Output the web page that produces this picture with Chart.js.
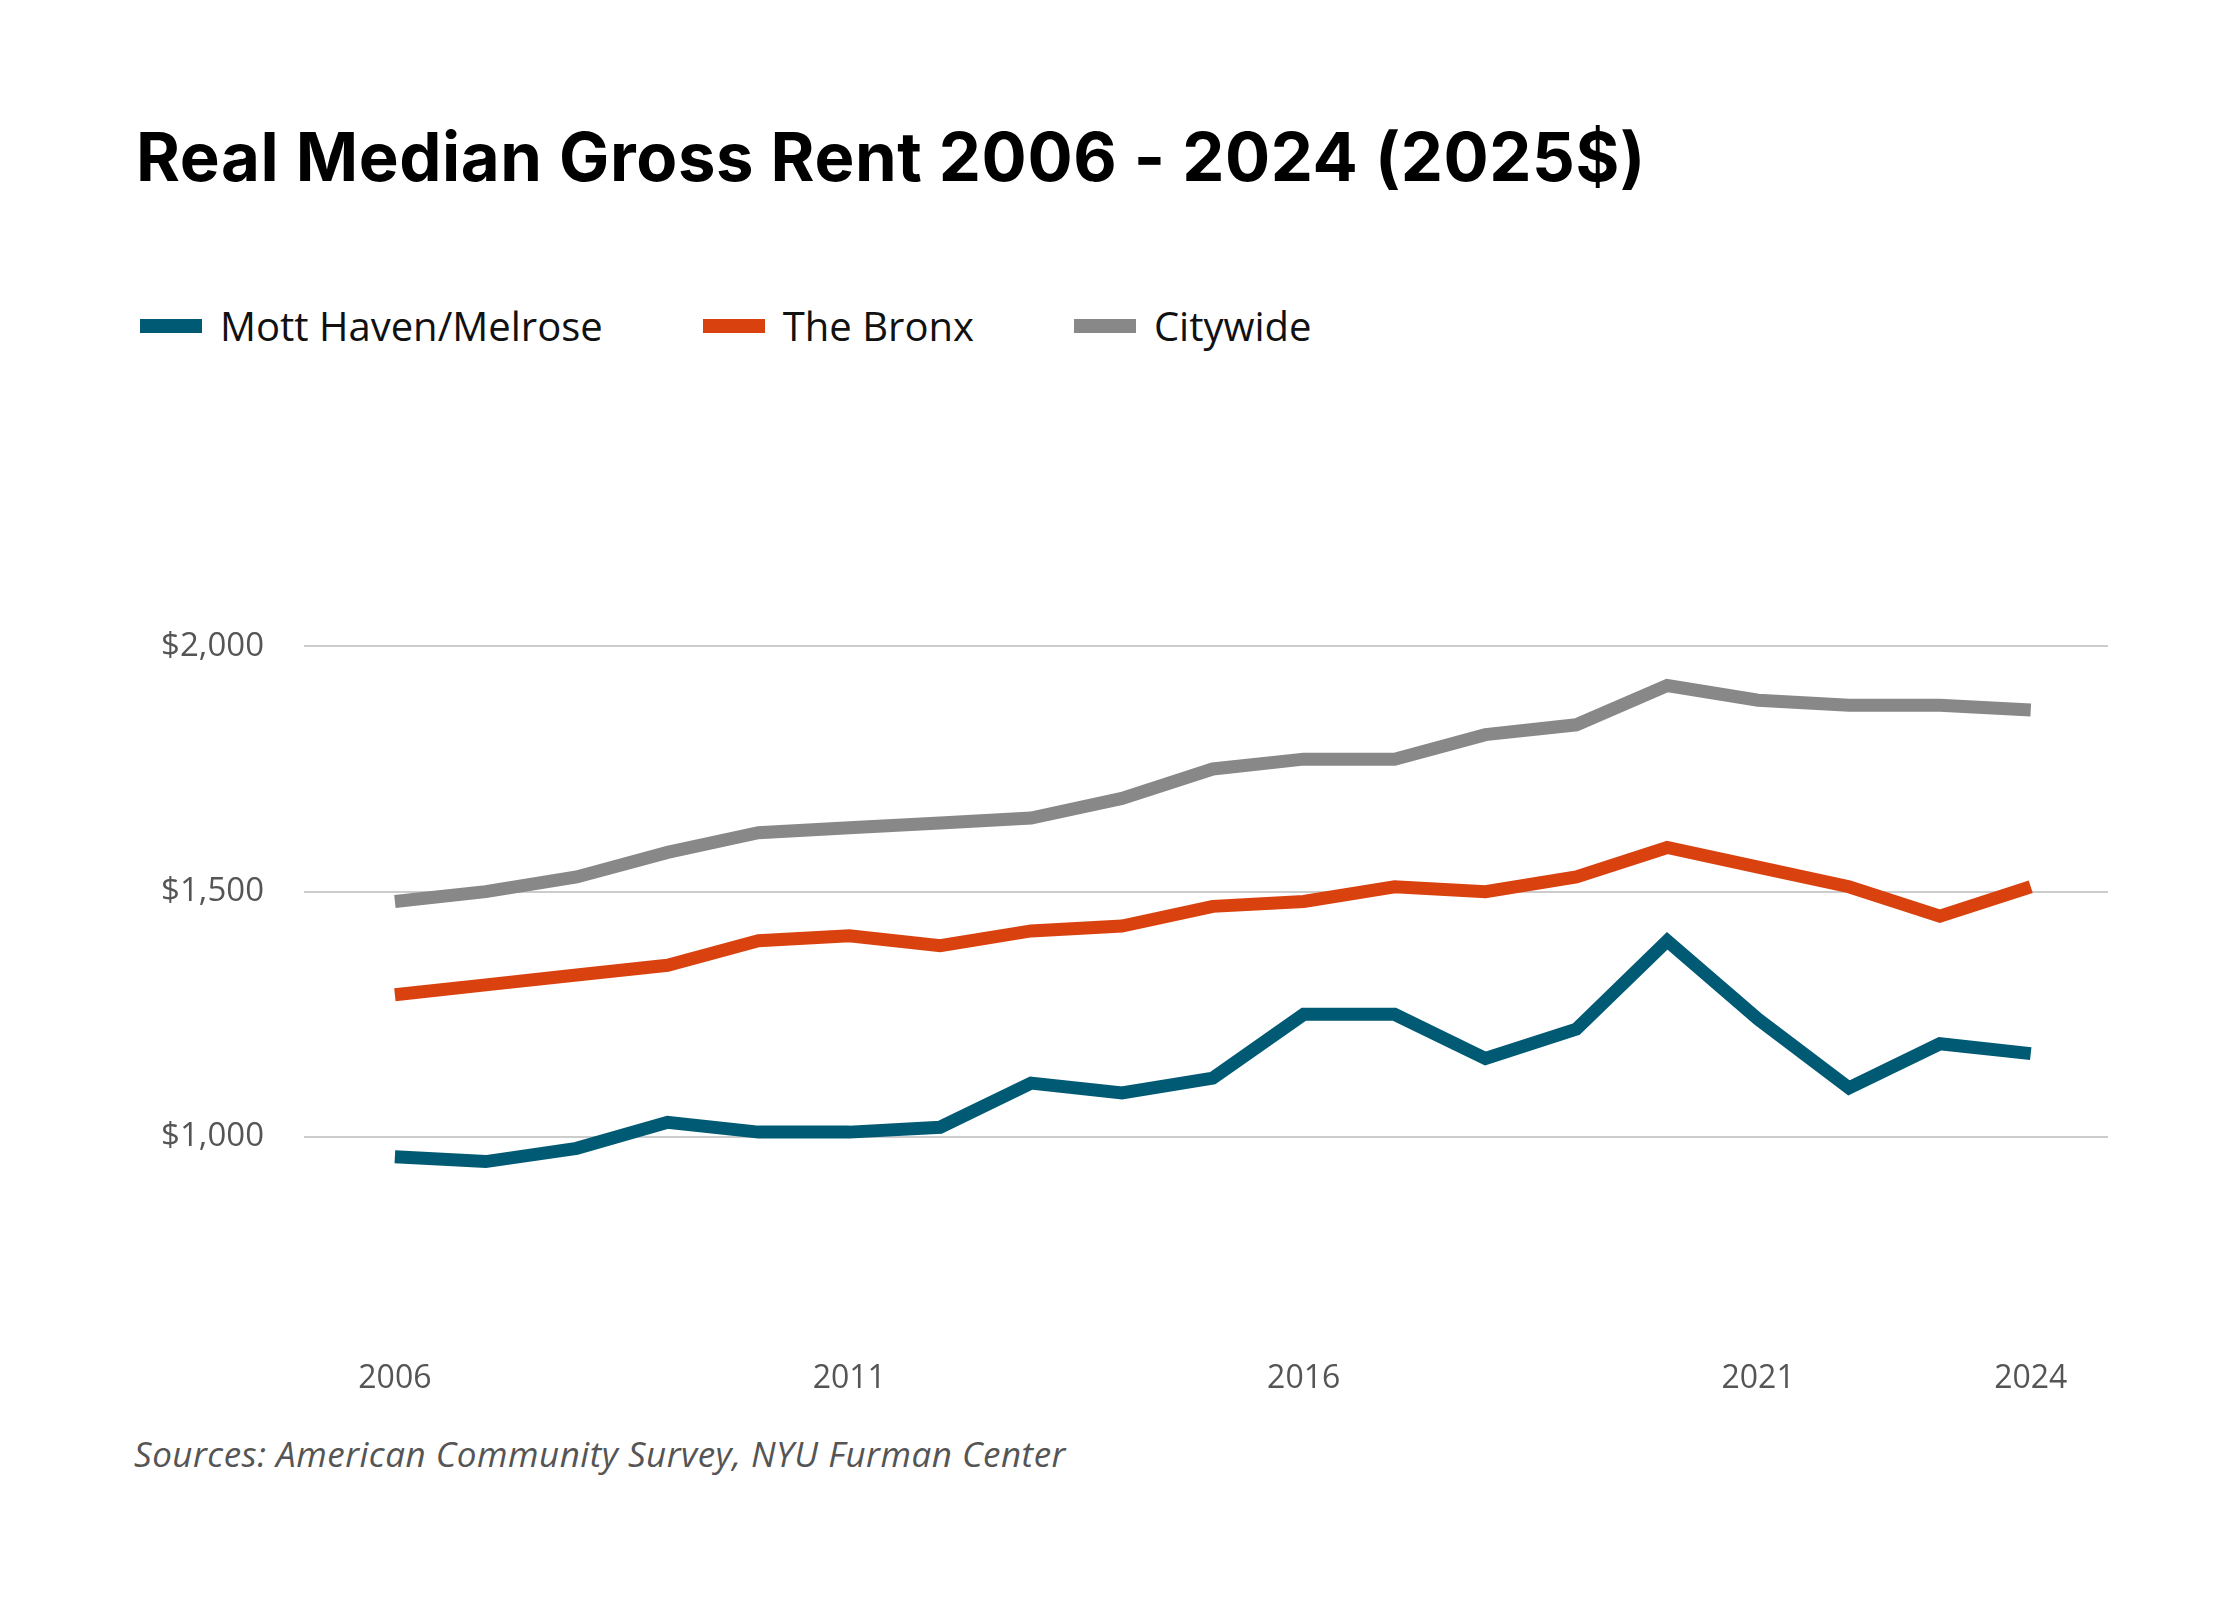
<!DOCTYPE html>
<html>
<head>
<meta charset="utf-8">
<script src="https://cdn.jsdelivr.net/npm/chart.js@4"></script>
<style>
  body { margin: 0; width: 2240px; height: 1600px; background: #fff; position: relative; font-family: "Open Sans", sans-serif; }
  h1 { position: absolute; left: 136px; top: 116px; margin: 0; font: 700 67px Inter, sans-serif; color: #000; letter-spacing: 0.6px; }
  .legend { position: absolute; left: 140px; top: 298px; display: flex; font: 40px "Open Sans", sans-serif; color: #111; }
  .item { display: flex; align-items: center; margin-right: 100px; }
  .sw { width: 62px; height: 14px; margin-right: 18px; }
  .src { position: absolute; left: 134px; top: 1430px; font: italic 35px "Open Sans", sans-serif; color: #555; letter-spacing: 0.5px; }
  #wrap { position: absolute; left: 0; top: 380px; width: 2240px; height: 1040px; }
</style>
</head>
<body>
<h1>Real Median Gross Rent 2006 - 2024 (2025$)</h1>
<div class="legend">
  <div class="item"><span class="sw" style="background:#005a74"></span>Mott Haven/Melrose</div>
  <div class="item"><span class="sw" style="background:#d9420f"></span>The Bronx</div>
  <div class="item"><span class="sw" style="background:#888888"></span>Citywide</div>
</div>
<div id="wrap"><canvas id="c"></canvas></div>
<div class="src">Sources: American Community Survey, NYU Furman Center</div>
<script>
const years = [2006,2007,2008,2009,2010,2011,2012,2013,2014,2015,2016,2017,2018,2019,2020,2021,2022,2023,2024];
const mottHaven = [960,950,977,1030,1010,1010,1020,1110,1090,1120,1250,1250,1160,1220,1400,1240,1100,1190,1170];
const bronx = [1290,1310,1330,1350,1400,1410,1390,1420,1430,1470,1480,1510,1500,1530,1590,1550,1510,1450,1510];
const citywide = [1480,1500,1530,1580,1620,1630,1640,1650,1690,1750,1770,1770,1820,1840,1920,1890,1880,1880,1870];
const xTicks = [2006,2011,2016,2021,2024];
const yTicks = [1000,1500,2000];

const pts = arr => arr.map((v, i) => ({ x: years[i], y: v }));
const ds = (label, data, color) => ({ label, data: pts(data), borderColor: color, borderWidth: 13, pointRadius: 0, tension: 0, fill: false });

new Chart(document.getElementById('c'), {
  type: 'line',
  data: { datasets: [
    ds('Citywide', citywide, '#888888'),
    ds('The Bronx', bronx, '#d9420f'),
    ds('Mott Haven/Melrose', mottHaven, '#005a74')
  ] },
  options: {
    responsive: true, maintainAspectRatio: false, animation: false,
    layout: { padding: { top: 70, right: 132, left: 0, bottom: 0 } },
    plugins: { legend: { display: false }, tooltip: { enabled: false } },
    scales: {
      x: {
        type: 'linear', min: 2005.0, max: 2024.85,
        afterBuildTicks: s => { s.ticks = xTicks.map(v => ({ value: v })); },
        afterFit: s => { s.height = 70; },
        grid: { display: false }, border: { display: false },
        ticks: { color: '#555', font: { size: 32, family: 'Open Sans' }, padding: 2, callback: v => String(v) }
      },
      y: {
        min: 566, max: 2400,
        afterBuildTicks: s => { s.ticks = yTicks.map(v => ({ value: v })); },
        afterFit: s => { s.width = 304; },
        grid: { color: '#cccccc', lineWidth: 2, drawTicks: false }, border: { display: false },
        ticks: { color: '#555', font: { size: 33, family: 'Open Sans' }, padding: 40, callback: v => '$' + v.toLocaleString('en-US') }
      }
    }
  }
});
</script>
</body>
</html>
